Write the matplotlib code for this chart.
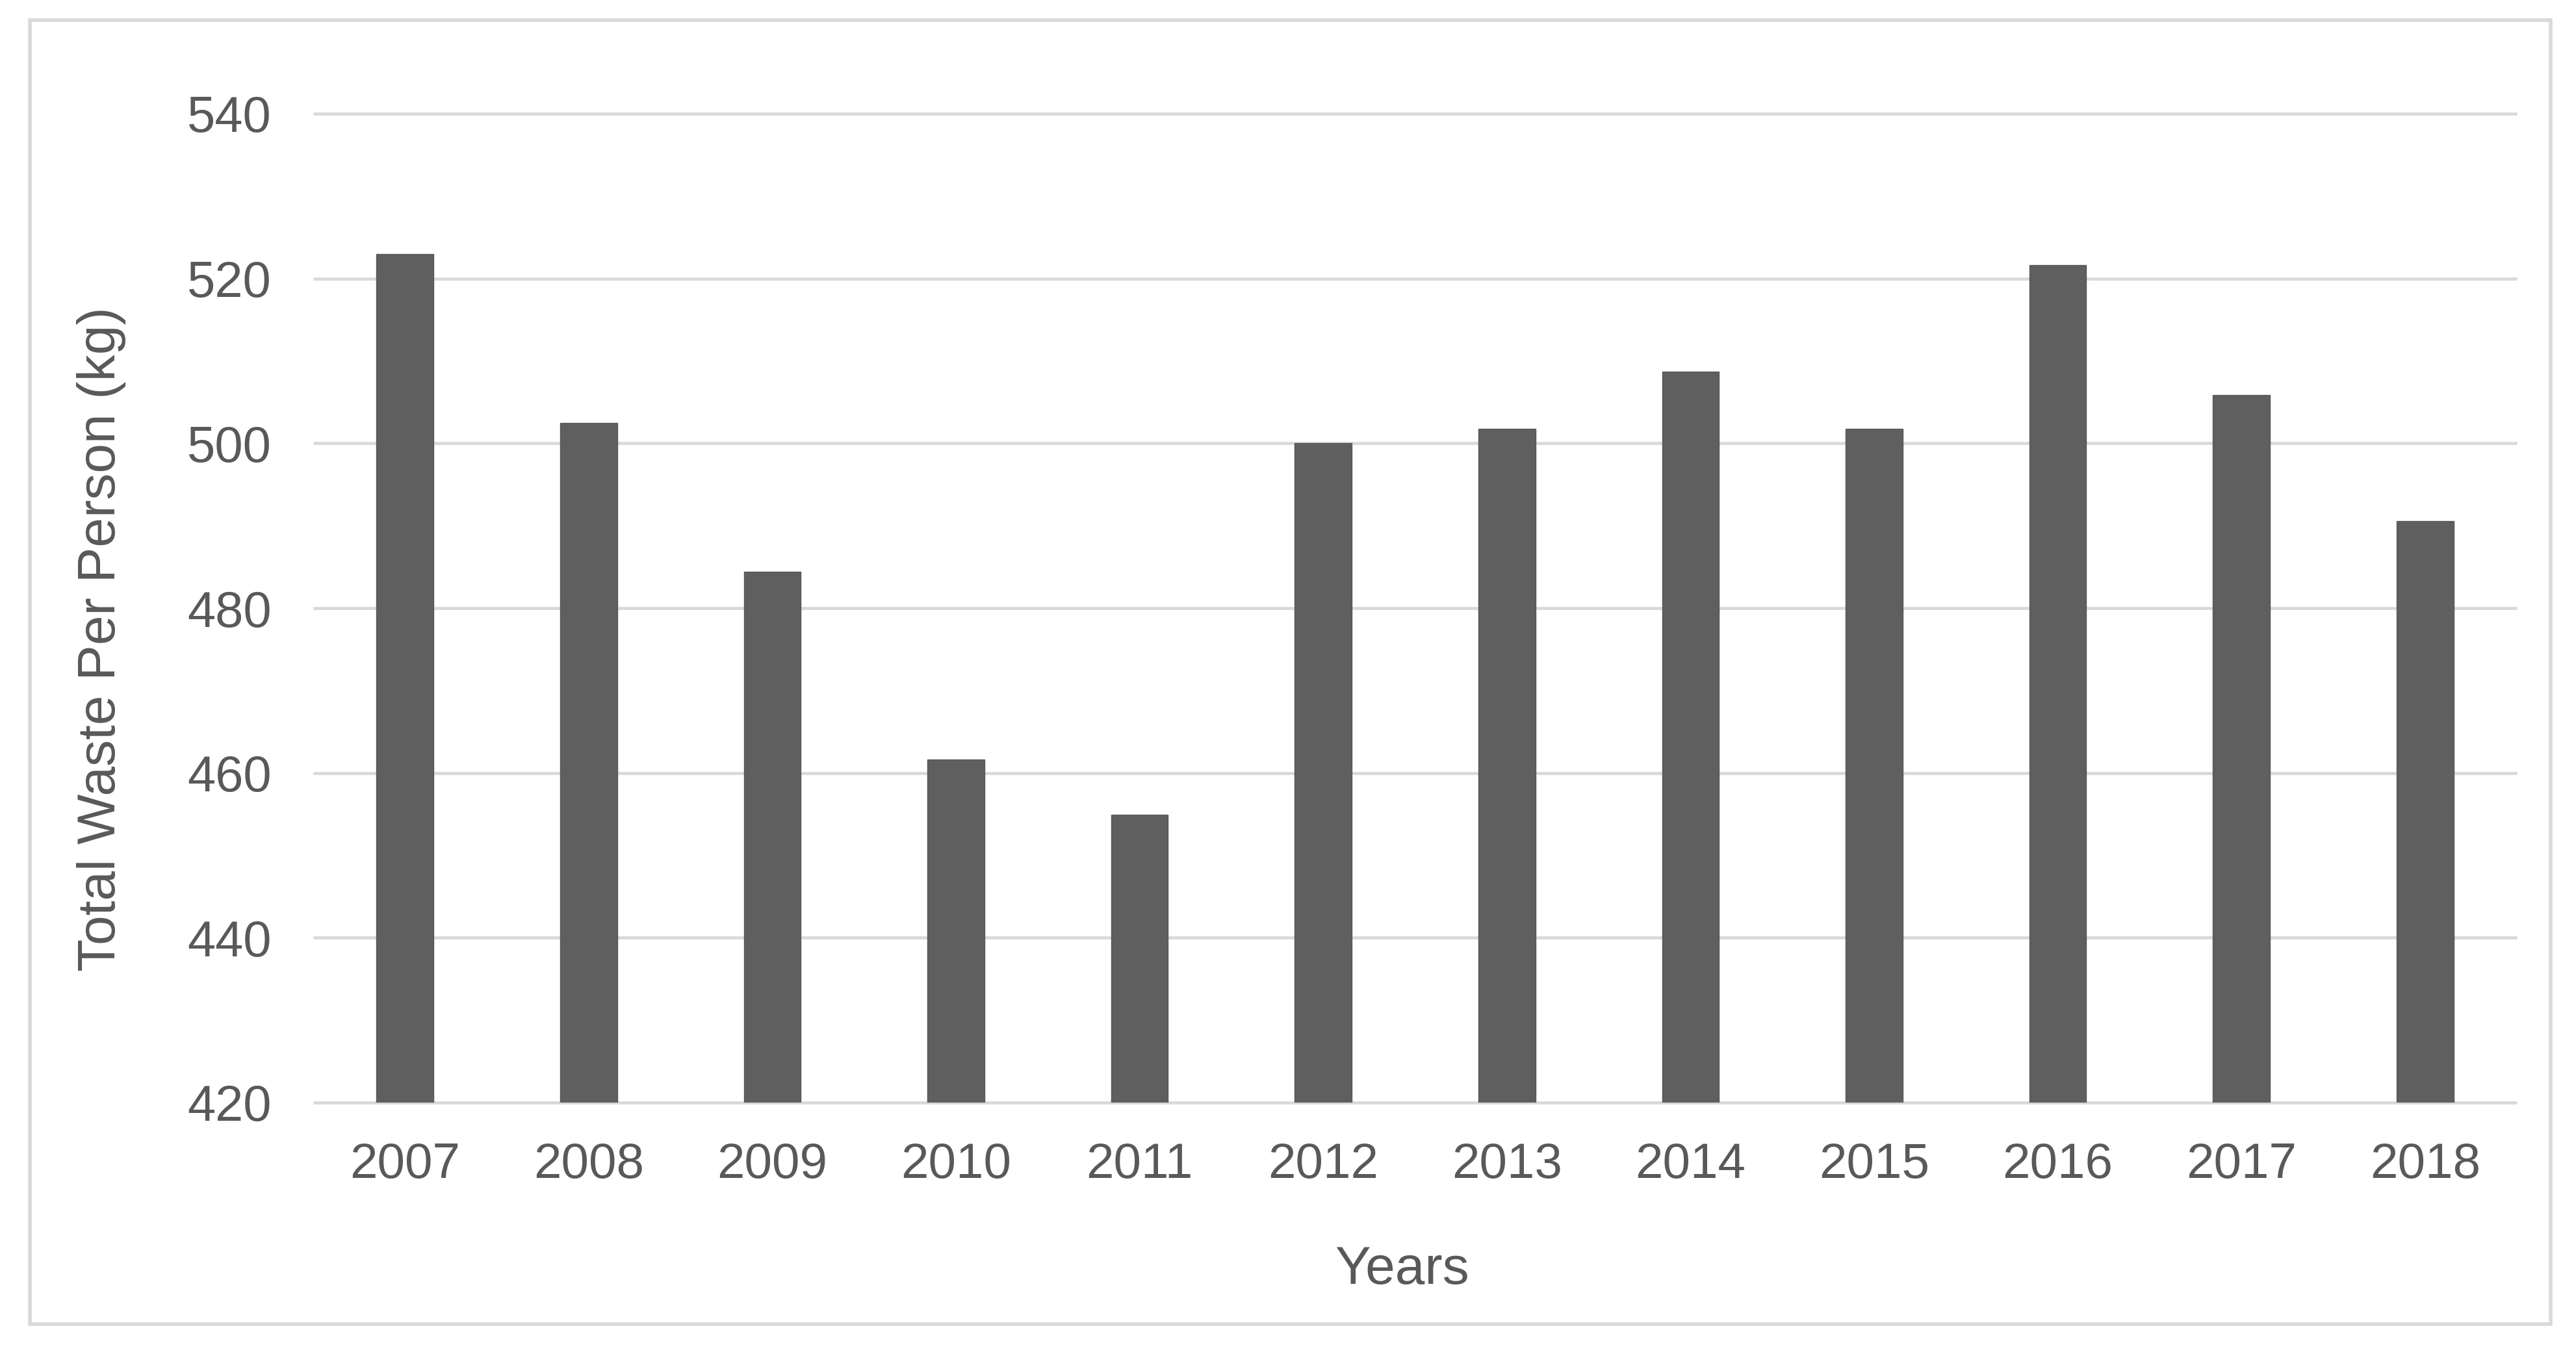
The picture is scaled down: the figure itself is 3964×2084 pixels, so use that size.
import matplotlib
matplotlib.use("Agg")
import matplotlib.pyplot as plt
from matplotlib.patches import Rectangle

# ---- data ----
years = ["2007", "2008", "2009", "2010", "2011", "2012",
         "2013", "2014", "2015", "2016", "2017", "2018"]
waste_kg = [523.0, 502.5, 484.4, 461.6, 454.9, 500.0,
            501.8, 508.7, 501.8, 521.6, 505.9, 490.6]
y_ticks = [420, 440, 460, 480, 500, 520, 540]

W, H = 3964, 2084
DPI = 100
plt.rcParams['font.family'] = ['Liberation Sans', 'DejaVu Sans']
TEXT = '#595959'
GRID = '#d9d9d9'
BAR = '#5f5f5f'

fig = plt.figure(figsize=(W / DPI, H / DPI), dpi=DPI)
fig.patch.set_facecolor('white')

# outer chart border
fig.patches.append(Rectangle((46 / W, 1 - 2038 / H), (3925 - 46) / W, (2038 - 31) / H,
                             transform=fig.transFigure, fill=False,
                             edgecolor=GRID, linewidth=4.0))

left, right, top, bottom = 482, 3873, 175, 1697
ax = fig.add_axes([left / W, 1 - bottom / H, (right - left) / W, (bottom - top) / H])

x = list(range(len(years)))
ax.bar(x, [v - 420 for v in waste_kg], bottom=420, width=0.31,
       color=BAR, edgecolor='#575757', linewidth=1.0, zorder=3)

ax.set_xlim(-0.5, len(years) - 0.5)
ax.set_ylim(420, 540)
ax.hlines(y_ticks, -0.5, len(years) - 0.5, colors=GRID, linewidth=3.4,
          zorder=1, clip_on=False)

for s in ax.spines.values():
    s.set_visible(False)

ax.set_yticks(y_ticks)
ax.set_yticklabels([str(t) for t in y_ticks])
ax.set_xticks(x)
ax.set_xticklabels(years)
ax.tick_params(axis='y', length=0, pad=46, labelsize=56, labelcolor=TEXT)
ax.tick_params(axis='x', length=0, pad=44, labelsize=55, labelcolor=TEXT)

fig.text(2158 / W, 1 - 1955 / H, "Years", ha='center', va='center',
         fontsize=59, color=TEXT)
fig.text(156 / W, 1 - 984 / H, "Total Waste Per Person (kg)", ha='center',
         va='center', rotation=90, fontsize=59, color=TEXT)

fig.savefig("out.png", dpi=DPI, facecolor='white')
